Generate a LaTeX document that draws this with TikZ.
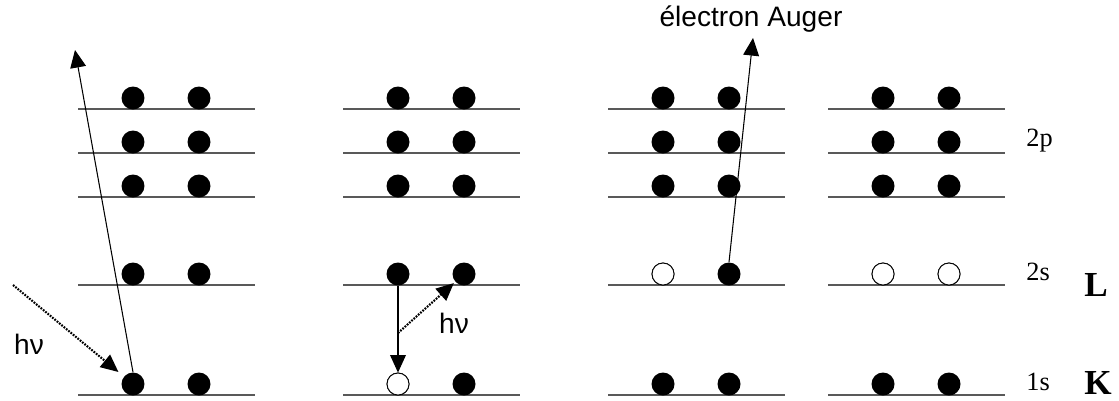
\documentclass[tikz,border=0pt]{standalone}
\usepackage{fontspec}
\setmainfont{Liberation Serif}
\newfontfamily\arialfont{Liberation Sans}
\usetikzlibrary{arrows.meta}
\tikzset{
  shellline/.style={black!65, line width=0.9pt},
  full/.style={circle, fill=black, minimum size=0.46cm, inner sep=0pt},
  hole/.style={circle, draw=black, fill=white, line width=0.5pt, minimum size=0.44cm, inner sep=0pt},
  arr/.style={-{Triangle[length=10pt,width=9pt]}, line width=0.6pt},
  photon/.style={arr, dash pattern=on 1pt off 0.7pt, line width=1.2pt},
  sanslabel/.style={font=\arialfont\fontsize{16}{18}\selectfont, inner sep=0pt},
  shelllabel/.style={font=\fontsize{15}{17}\selectfont, inner sep=0pt, anchor=west},
  shellname/.style={font=\bfseries\fontsize{20}{22}\selectfont, inner sep=0pt}
}
\begin{document}
\begin{tikzpicture}[x=0.02cm, y=-0.02cm]
\useasboundingbox (0,0) rectangle (1119,400);
% levels and electrons
\foreach \px [count=\i] in {78,343,608,828} {
  \foreach \ly [count=\j] in {109,153,197,285,395} {
    \draw[shellline] (\px,\ly) -- ++(177,0);
    \node[full] (e\i-\j-1) at (\px+55,\ly-11) {};
    \node[full] (e\i-\j-2) at (\px+121,\ly-11) {};
  }
}
% vacancies
\node[hole] (e2-5-1) at (398,384) {};
\node[hole] (e3-4-1) at (663,274) {};
\node[hole] (e4-4-1) at (883,274) {};
\node[hole] (e4-4-2) at (949,274) {};

% photoionisation
\coordinate (eject) at (75,50);
\coordinate (xray) at (13,285);
\draw[arr] (e1-5-1.north) -- (eject);
\draw[photon, shorten >=4pt] (xray) -- (e1-5-1);
\node[sanslabel] (hnu1) at (29,344) {hν};

% relaxation
\coordinate (emit) at (398,333);
\draw[arr] (e2-4-1.south) -- (e2-5-1.north);
\draw[photon, shorten >=1pt] (emit) -- (e2-4-2);
\node[sanslabel] (hnu2) at (454,323) {hν};

% Auger
\coordinate (auger) at (753,38);
\draw[arr] (e3-4-2.north) -- (auger);
\node[sanslabel] (augerlabel) at (751,19) {électron Auger};

% shells
\node[shelllabel] (l2p) at (1026,141) {2p};
\node[shelllabel] (l2s) at (1026,272) {2s};
\node[shelllabel] (l1s) at (1026,382) {1s};
\node[shellname] (shL) at (1096,285) {L};
\node[shellname] (shK) at (1098,383) {K};
\end{tikzpicture}
\end{document}
